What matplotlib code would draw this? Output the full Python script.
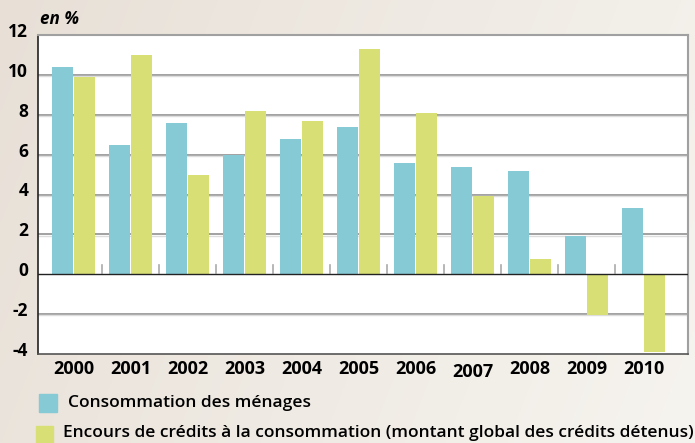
import matplotlib
matplotlib.use("Agg")
import matplotlib.pyplot as plt
import matplotlib.transforms as mtransforms
import numpy as np

years = ["2000", "2001", "2002", "2003", "2004", "2005", "2006", "2007", "2008", "2009", "2010"]
consommation = [10.4, 6.5, 7.6, 6.0, 6.8, 7.4, 5.6, 5.4, 5.2, 1.9, 3.3]
encours = [9.9, 11.0, 5.0, 8.2, 7.7, 11.3, 8.1, 3.9, 0.75, -2.05, -3.9]
yticks = [-4, -2, 0, 2, 4, 6, 8, 10, 12]
label_cons = "Consommation des ménages"
label_enc = "Encours de crédits à la consommation (montant global des crédits détenus)"

BLUE = "#86CAD6"
GREEN = "#D7DF75"

plt.rcParams['font.family'] = ['Open Sans', 'DejaVu Sans']

fig = plt.figure(figsize=(6.95, 4.43), dpi=100)

# background gradient
bg = fig.add_axes([0, 0, 1, 1], zorder=-10)
grad = np.linspace(0, 1, 256)
X, Y = np.meshgrid(grad, grad)
t = (X * 0.8 + (1 - Y) * 0.2)
c0 = np.array([232, 224, 215]) / 255
c1 = np.array([246, 244, 239]) / 255
img = c0[None, None, :] * (1 - t[..., None]) + c1[None, None, :] * t[..., None]
bg.imshow(img, aspect='auto', extent=[0, 1, 0, 1], origin='lower')
bg.axis('off')

W, H = 695, 443
left, right, top, bottom = 38, 688, 35, 354
ax = fig.add_axes([left / W, 1 - bottom / H, (right - left) / W, (bottom - top) / H])
ax.set_facecolor("white")

x = np.arange(len(years))
w = 0.37
ax.bar(x - 0.195, consommation, width=w, color=BLUE, zorder=3)
ax.bar(x + 0.195, encours, width=w, color=GREEN, zorder=3)

ax.set_xlim(-0.623, 10.78)
ax.set_ylim(-4, 12)
ax.set_yticks(yticks)
ax.set_yticklabels([str(v) for v in yticks], fontsize=12.5, fontweight='bold')
for v in yticks:
    if v not in (0, -4, 12):
        ax.axhline(v, color="#9a9a9a", lw=1.3, zorder=1)
        ax.axhline(v - 0.06, color="#dddddd", lw=1.0, zorder=1)
ax.axhline(0, color="#222222", lw=1.0, zorder=4)

# small separators just above zero line
for b in np.arange(0.5, len(years) - 1, 1.0):
    ax.plot([b, b], [0.05, 0.45], color="#aaaaaa", lw=1.2, zorder=2)

ax.set_xticks(x)
ax.set_xticklabels(years, fontsize=13, fontweight='bold')
ax.tick_params(axis='both', length=0)
ax.tick_params(axis='x', pad=4)
ax.tick_params(axis='y', pad=7)

# shift y tick labels slightly upward as in the reference
offset = mtransforms.ScaledTranslation(0, 5 / 100, fig.dpi_scale_trans)
for lab in ax.get_yticklabels():
    lab.set_transform(lab.get_transform() + offset)
# small stagger for 2007 as in the reference
off07 = mtransforms.ScaledTranslation(0, -3 / 100, fig.dpi_scale_trans)
xl = ax.get_xticklabels()
xl[7].set_transform(xl[7].get_transform() + off07)

for s in ['top', 'right']:
    ax.spines[s].set_color("#a0a0a0")
    ax.spines[s].set_linewidth(1.5)
ax.spines['left'].set_color("#222222")
ax.spines['left'].set_linewidth(1.2)
ax.spines['bottom'].set_color("#555555")
ax.spines['bottom'].set_linewidth(1.2)

fig.text(40 / W, 1 - 19 / H, "en %", fontsize=12.3, fontweight='bold', fontstyle='italic', va='center', ha='left')

# legend
from matplotlib.patches import Rectangle
fig.patches.append(Rectangle((39 / W, 1 - 412 / H), 18 / W, 18 / H, transform=fig.transFigure, color=BLUE, figure=fig))
fig.text(68 / W, 1 - 403 / H, label_cons, fontsize=12.5, fontweight='semibold', va='center', ha='left')
fig.patches.append(Rectangle((36 / W, 1 - 443 / H), 17 / W, 17 / H, transform=fig.transFigure, color=GREEN, figure=fig))
fig.text(63 / W, 1 - 433 / H, label_enc, fontsize=12.5, fontweight='semibold', va='center', ha='left')

fig.savefig("out.png", dpi=100)
